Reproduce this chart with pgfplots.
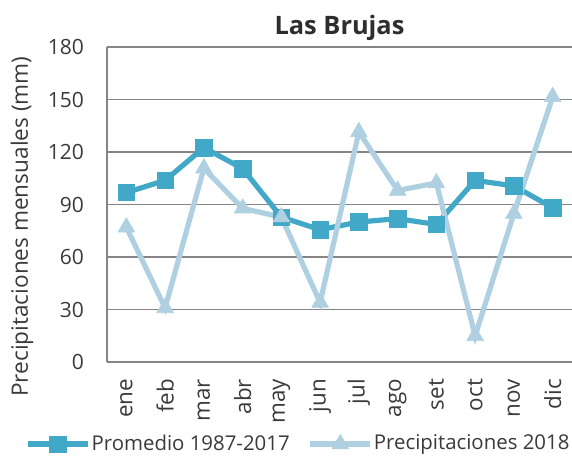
\documentclass[border=0pt]{standalone}
\usepackage{fontspec}
\setmainfont{Open Sans}
\usepackage{pgfplots}
\pgfplotsset{compat=1.18}
\usetikzlibrary{calc}

\definecolor{promblue}{HTML}{42A8C8}
\definecolor{lightblue}{HTML}{AED0E0}
\definecolor{gridgray}{HTML}{858585}
\definecolor{txtgray}{HTML}{3A3A3A}

\begin{document}
\begin{tikzpicture}
\begin{axis}[
  scale only axis,
  width=232.5pt, height=157.5pt,
  xmin=-0.5, xmax=11.5,
  ymin=0, ymax=180,
  ytick={0,30,...,180},
  xtick={0,...,11},
  xticklabels={ene,feb,mar,abr,may,jun,jul,ago,set,oct,nov,dic},
  /pgf/number format/assume math mode=true,
  axis x line=bottom,
  axis y line=left,
  axis line style={-, draw=gridgray, line width=0.9pt},
  major tick length=0pt,
  ymajorgrids=true,
  grid style={gridgray, line width=0.9pt},
  tick label style={font=\fontsize{10.5}{12}\selectfont, text=txtgray},
  yticklabel shift=8pt,
  xticklabel shift=5pt,
  xticklabel style={rotate=90, anchor=east, font=\fontsize{11.2}{12}\selectfont},
  title={Las Brujas},
  title style={font=\fontsize{12.7}{15}\selectfont\bfseries, text=txtgray!80!black, yshift=-6.5pt},
  ylabel={Precipitaciones mensuales (mm)},
  ylabel style={font=\fontsize{11.3}{12}\selectfont, text=txtgray, at={(axis description cs:-0.183,0.43)}, anchor=center},
  legend columns=2,
  legend style={draw=none, fill=none, font=\fontsize{10.2}{12}\selectfont, text=txtgray,
    at={(axis description cs:0,0)}, anchor=west, xshift=-44pt, yshift=-41pt,
    nodes={inner xsep=0.5pt},
    /tikz/every even column/.append style={column sep=8.5pt}},
  legend image code/.code={%
    \draw[mark repeat=2, mark phase=2] plot coordinates {(0pt,0pt) (15pt,0pt) (30pt,0pt)};},
]
\addplot[promblue, line width=2.6pt, mark=square*, mark size=4.1pt,
  mark options={solid, fill=promblue, draw=promblue, line width=0.3pt}] coordinates {
(0,96.8) (1,103.8) (2,122.5) (3,110.5) (4,82.8) (5,75.6)
(6,80.0) (7,81.9) (8,78.6) (9,103.8) (10,100.6) (11,88.2)
};
\addlegendentry{Promedio 1987-2017}
\addplot[lightblue, line width=2.6pt, mark=triangle*, mark size=4.8pt,
  mark options={solid, fill=lightblue, draw=lightblue, line width=0.3pt}] coordinates {
(0,77.0) (1,30.9) (2,110.7) (3,87.8) (4,82.8) (5,34.0)
(6,131.5) (7,98.0) (8,102.3) (9,15.0) (10,84.8) (11,151.5)
};
\addlegendentry{Precipitaciones 2018}
\end{axis}
\pgfresetboundingbox
\path ($(current axis.south west)+(-53.5pt,-46.5pt)$) rectangle ($(current axis.north east)+(0pt,23.5pt)$);
\end{tikzpicture}
\end{document}
